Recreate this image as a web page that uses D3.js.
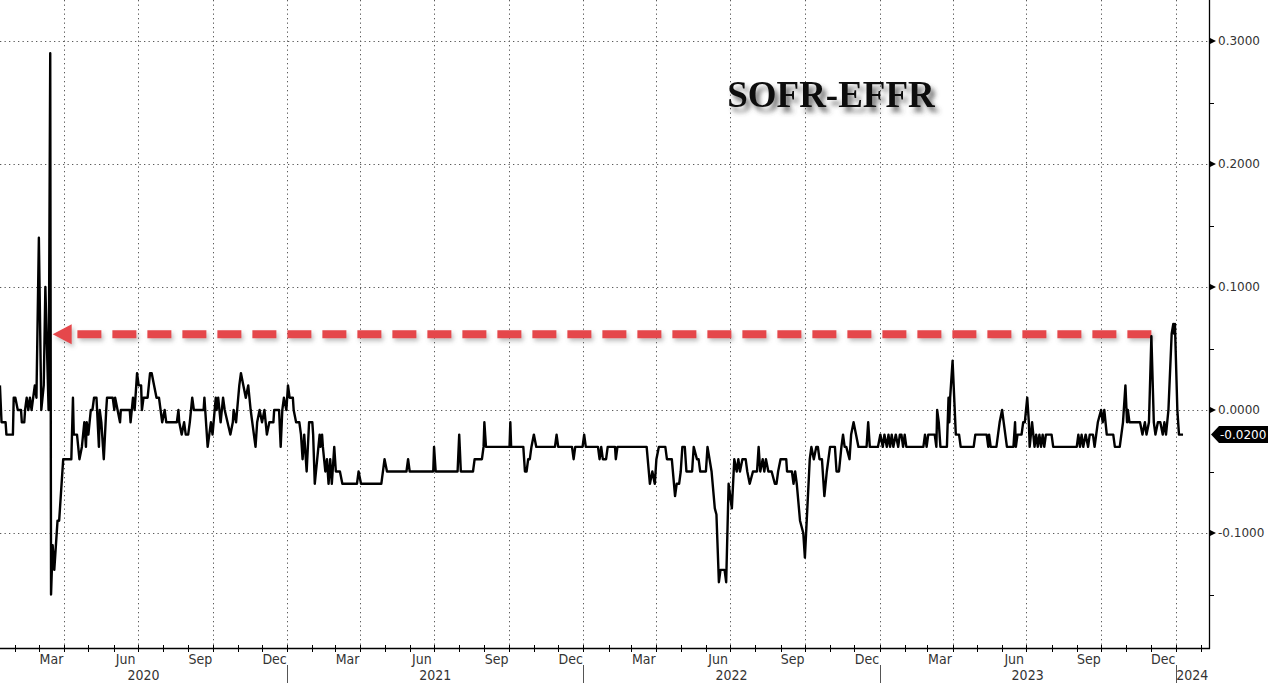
<!DOCTYPE html>
<html>
<head>
<meta charset="utf-8">
<script src="https://cdn.jsdelivr.net/npm/d3@7"></script>
<style>
html,body{margin:0;padding:0;background:#fff;}
svg{display:block;}
</style>
</head>
<body>
<svg id="chart" width="1268" height="683"></svg>
<script>
// ---------------- DATA ----------------
const baseDate = "2020-01-01";            // day 0
// observation dates, in days after baseDate
const dayOffsets = [
12,14,19,20,28,29,31,34,38,39,42,43,45,47,49,51,53,55,57,60,63,66,68,72,74,75,77,79,83,85,90,
100,102,103,107,110,113,116,118,119,121,124,126,128,131,134,135,137,140,143,144,151,153,154,157,160,161,172,173,176,178,181,183,186,187,189,194,197,199,202,205,208,210,212,215,217,230,232,233,236,239,241,244,246,249,251,263,264,266,268,272,274,278,279,281,284,287,289,296,299,300,303,307,309,312,315,318,321,323,327,329,332,335,338,341,344,349,350,356,358,
360,362,365,367,369,373,374,377,381,383,385,387,390,393,397,398,400,403,406,407,409,410,413,415,417,419,421,424,426,431,434,452,454,457,482,486,489,513,515,517,546,547,549,576,578,580,595,597,606,608,609,611,640,641,642,657,659,661,663,665,667,670,673,
696,698,700,717,719,721,730,732,734,749,751,753,755,759,761,770,771,773,809,813,816,819,821,824,832,834,840,844,846,849,851,853,856,858,865,867,871,873,875,882,884,889,893,895,898,900,905,907,910,914,917,920,922,924,927,931,933,936,940,945,947,949,952,954,956,959,963,967,969,971,974,981,982,988,990,992,994,998,1002,1004,1007,1010,
1012,1015,1018,1020,1022,1025,1028,1031,1033,1035,1041,1043,1046,1049,1051,1053,1055,1059,1061,1064,1067,1070,1080,1082,1084,1094,1097,1100,1102,1105,1107,1109,1111,1113,1116,1119,1121,1123,1125,1127,1129,1150,1152,1154,1156,1164,1166,1167,1169,1171,1179,1181,1182,1183,1186,1188,1190,1194,1196,1212,1214,1228,1230,1231,1233,1240,1242,1244,1247,1249,1253,1261,1263,1264,1266,1271,1273,1275,1278,1280,1281,1284,1287,1289,1291,1293,1295,1297,1299,1301,1308,1310,
1339,1341,1343,1345,1347,1350,1353,1355,1359,1361,1363,1365,1369,1371,1373,1376,1384,1386,1392,1394,1396,1399,1401,1402,1404,1417,1420,1423,1425,1428,1431,1434,1436,1439,1442,1445,1447,1449,1452,1456,1458,1459,1460,1463,1465,1470
];
// SOFR minus EFFR, percentage points
const spread = [
0.02,-0.01,-0.01,-0.02,-0.02,0.01,0.01,0,0,-0.01,-0.01,0,0.01,0,0.01,0,0.01,0.02,0.01,0.14,0,0.02,0.10,0,0.29,-0.15,-0.11,-0.13,-0.09,-0.09,-0.04,
-0.04,0.01,-0.02,-0.02,-0.04,-0.03,-0.01,-0.03,-0.01,-0.02,0,0,0.01,0.01,-0.03,0,-0.01,-0.04,0,0.01,0.01,0,0.01,0,-0.01,0,0,-0.01,0.01,0,0.03,0.02,0.02,0,0.01,0.01,0.03,0.03,0.02,0.01,0.01,0,-0.01,0,-0.01,-0.01,0,-0.01,-0.02,-0.01,-0.02,-0.02,-0.01,0.01,0,0,0.01,-0.01,-0.03,-0.01,-0.02,0.01,0,0.01,-0.01,0.01,0,-0.02,-0.01,0,-0.01,0.02,0.03,0.02,0.01,0.02,0,-0.01,-0.03,-0.01,0,-0.01,0,-0.02,-0.01,-0.01,0,0,-0.03,
0,0.01,0,0.02,0.01,0.01,0,-0.01,-0.01,-0.02,-0.04,-0.02,-0.05,-0.01,-0.01,-0.02,-0.06,-0.04,-0.02,-0.03,-0.02,-0.03,-0.05,-0.04,-0.06,-0.04,-0.06,-0.03,-0.05,-0.05,-0.06,-0.06,-0.05,-0.06,-0.06,-0.04,-0.05,-0.05,-0.04,-0.05,-0.05,-0.03,-0.05,-0.05,-0.02,-0.05,-0.05,-0.04,-0.04,-0.03,-0.01,-0.03,-0.03,-0.01,-0.03,-0.03,-0.05,-0.05,-0.04,-0.04,-0.03,-0.02,-0.03,
-0.03,-0.02,-0.03,-0.03,-0.04,-0.03,-0.03,-0.02,-0.03,-0.03,-0.04,-0.03,-0.04,-0.04,-0.03,-0.03,-0.04,-0.03,-0.03,-0.06,-0.05,-0.06,-0.04,-0.03,-0.03,-0.04,-0.04,-0.07,-0.06,-0.06,-0.05,-0.03,-0.03,-0.05,-0.05,-0.03,-0.04,-0.04,-0.05,-0.05,-0.03,-0.05,-0.08,-0.085,-0.14,-0.13,-0.13,-0.14,-0.06,-0.08,-0.04,-0.05,-0.04,-0.05,-0.04,-0.04,-0.05,-0.06,-0.05,-0.05,-0.03,-0.05,-0.04,-0.05,-0.04,-0.05,-0.05,-0.06,-0.06,-0.05,-0.04,-0.04,-0.05,-0.05,-0.06,-0.05,-0.06,-0.09,-0.10,-0.12,-0.08,-0.04,
-0.03,-0.04,-0.03,-0.03,-0.04,-0.04,-0.07,-0.05,-0.04,-0.03,-0.03,-0.05,-0.05,-0.03,-0.02,-0.03,-0.03,-0.04,-0.02,-0.01,-0.02,-0.03,-0.03,-0.01,-0.03,-0.03,-0.02,-0.03,-0.02,-0.03,-0.02,-0.03,-0.02,-0.03,-0.02,-0.03,-0.02,-0.02,-0.03,-0.02,-0.03,-0.03,-0.02,-0.03,-0.02,-0.02,-0.03,0,-0.01,-0.03,-0.03,0.01,-0.01,0.01,0.04,0.01,-0.02,-0.02,-0.03,-0.03,-0.02,-0.02,-0.03,-0.02,-0.03,-0.03,-0.02,-0.01,0,-0.01,-0.03,-0.03,-0.01,-0.03,-0.02,-0.02,-0.01,-0.01,0.01,-0.01,-0.03,-0.01,-0.03,-0.02,-0.03,-0.02,-0.03,-0.02,-0.03,-0.02,-0.02,-0.03,
-0.03,-0.02,-0.03,-0.02,-0.03,-0.02,-0.03,-0.02,-0.02,-0.03,-0.02,-0.01,0,-0.01,0,-0.02,-0.02,-0.03,-0.03,-0.02,-0.01,0.02,-0.01,0,-0.01,-0.01,-0.02,-0.01,-0.02,-0.01,0.06,-0.01,-0.02,-0.01,-0.01,-0.02,-0.01,-0.02,0,0.062,0.07,0.062,0.07,0,-0.02,-0.02
];
const yTickValues = [-0.1, 0, 0.1, 0.2, 0.3];
const yMinorValues = [-0.15, -0.05, 0.05, 0.15, 0.25];
const monthLabelNames = {2: "Mar", 5: "Jun", 8: "Sep", 11: "Dec"};
const yearLabels = ["2020", "2021", "2022", "2023", "2024"];
const lastValueLabel = "-0.0200";
const chartTitle = "SOFR-EFFR";
// annotation arrow: level and the two observation days it links
const arrowLevel = 0.0615;
const arrowFromDay = 1431;
const arrowToDay = 77;

// ---------------- SCALES ----------------
const base = new Date(baseDate + "T00:00:00Z");
const dayToDate = d => new Date(base.getTime() + d * 86400000);
const data = dayOffsets.map((d, i) => ({date: dayToDate(d), v: spread[i]}));

const W = 1268, H = 683;
const plotRight = 1209, plotBottom = 648;
const x = d3.scaleUtc()
  .domain([dayToDate(12.1), dayToDate(1502)])
  .range([0, plotRight]);
const y = d3.scaleLinear().domain([-0.1, 0.3]).range([533, 41]);

const svg = d3.select("#chart");
const defs = svg.append("defs");
const tf = defs.append("filter").attr("id", "titleShadow").attr("x", "-20%").attr("y", "-40%").attr("width", "140%").attr("height", "190%");
tf.append("feDropShadow").attr("dx", 4).attr("dy", 5).attr("stdDeviation", 2.8)
  .attr("flood-color", "#444").attr("flood-opacity", 0.75);
const af = defs.append("filter").attr("id", "arrowShadow").attr("x", "-5%").attr("y", "-100%").attr("width", "110%").attr("height", "300%");
af.append("feDropShadow").attr("dx", 2).attr("dy", 3).attr("stdDeviation", 2)
  .attr("flood-color", "#777").attr("flood-opacity", 0.45);

// ---------------- GRID ----------------
const gridColor = "#5a5a5a";
const dash = "1.3,3.2";
svg.append("g").selectAll("line").data(yTickValues).join("line")
  .attr("x1", 0).attr("x2", plotRight)
  .attr("y1", d => Math.round(y(d)) + 0.5).attr("y2", d => Math.round(y(d)) + 0.5)
  .attr("stroke", gridColor).attr("stroke-width", 1).attr("stroke-dasharray", dash);

const quarterStarts = d3.utcMonth.every(3).range(x.domain()[0], x.domain()[1]);
svg.append("g").selectAll("line").data(quarterStarts).join("line")
  .attr("x1", d => Math.round(x(d)) + 0.5).attr("x2", d => Math.round(x(d)) + 0.5)
  .attr("y1", 0).attr("y2", plotBottom)
  .attr("stroke", gridColor).attr("stroke-width", 1).attr("stroke-dasharray", dash);

// ---------------- TITLE ----------------
svg.append("text")
  .attr("x", 831).attr("y", 107)
  .attr("text-anchor", "middle")
  .attr("font-family", "'Liberation Serif','Times New Roman',serif")
  .attr("font-weight", "bold").attr("font-size", 37)
  .attr("fill", "#111")
  .attr("filter", "url(#titleShadow)")
  .text(chartTitle);

// ---------------- ARROW ----------------
const ay = y(arrowLevel);
const tipX = x(dayToDate(arrowToDay));
const headLen = 19, headHalf = 10;
const ag = svg.append("g").attr("filter", "url(#arrowShadow)");
ag.append("line")
  .attr("x1", x(dayToDate(arrowFromDay))).attr("x2", tipX + headLen)
  .attr("y1", ay).attr("y2", ay)
  .attr("stroke", "#e5474b").attr("stroke-width", 8)
  .attr("stroke-dasharray", "24,11");
ag.append("path")
  .attr("d", `M${tipX},${ay} L${tipX + headLen},${ay - headHalf} L${tipX + headLen},${ay + headHalf} Z`)
  .attr("fill", "#e5474b");

// ---------------- LINE ----------------
svg.append("path")
  .datum(data)
  .attr("fill", "none").attr("stroke", "#000").attr("stroke-width", 2.4)
  .attr("stroke-linejoin", "round")
  .attr("d", d3.line().x(d => x(d.date)).y(d => y(d.v)));

// ---------------- AXES ----------------
svg.append("line").attr("x1", 0).attr("x2", plotRight + 1)
  .attr("y1", plotBottom + 0.5).attr("y2", plotBottom + 0.5)
  .attr("stroke", "#000").attr("stroke-width", 1.3);
svg.append("line").attr("x1", plotRight + 0.5).attr("x2", plotRight + 0.5)
  .attr("y1", 0).attr("y2", plotBottom + 1)
  .attr("stroke", "#000").attr("stroke-width", 1.3);

// month ticks
const monthStarts = d3.utcMonth.range(x.domain()[0], x.domain()[1]);
svg.append("g").selectAll("line").data(monthStarts).join("line")
  .attr("x1", d => Math.round(x(d)) + 0.5).attr("x2", d => Math.round(x(d)) + 0.5)
  .attr("y1", plotBottom - 3).attr("y2", plotBottom + 4)
  .attr("stroke", "#000").attr("stroke-width", 1);

// month labels (centred in their month)
const labelMonths = monthStarts.filter(d => monthLabelNames[d.getUTCMonth()] !== undefined);
svg.append("g").selectAll("text").data(labelMonths).join("text")
  .attr("x", d => (x(d) + x(d3.utcMonth.offset(d, 1))) / 2)
  .attr("y", 664)
  .attr("text-anchor", "middle")
  .attr("font-family", "'Liberation Sans Narrow','DejaVu Sans Condensed',sans-serif")
  .attr("font-size", 14).attr("fill", "#333")
  .text(d => monthLabelNames[d.getUTCMonth()]);

// year labels and separators
const yearStarts = yearLabels.map(s => new Date(s + "-01-01T00:00:00Z"));
svg.append("g").selectAll("text").data(yearStarts).join("text")
  .attr("x", d => {
    const a = Math.max(0, x(d));
    const b = Math.min(plotRight, x(d3.utcYear.offset(d, 1)));
    return (a + b) / 2;
  })
  .attr("y", 680)
  .attr("text-anchor", "middle")
  .attr("font-family", "'Liberation Sans Narrow','DejaVu Sans Condensed',sans-serif")
  .attr("font-size", 14).attr("fill", "#333")
  .text((d, i) => yearLabels[i]);
svg.append("g").selectAll("line").data(yearStarts.filter(d => x(d) > 1)).join("line")
  .attr("x1", d => Math.round(x(d)) + 0.5).attr("x2", d => Math.round(x(d)) + 0.5)
  .attr("y1", 665).attr("y2", 683)
  .attr("stroke", "#555").attr("stroke-width", 1);

// right axis ticks and labels
const ra = svg.append("g");
ra.selectAll("path").data(yTickValues).join("path")
  .attr("d", d => `M${plotRight},${y(d) - 3.5} L${plotRight + 7},${y(d)} L${plotRight},${y(d) + 3.5} Z`)
  .attr("fill", "#000");
ra.selectAll("line").data(yMinorValues).join("line")
  .attr("x1", plotRight).attr("x2", plotRight + 5)
  .attr("y1", d => Math.round(y(d)) + 0.5).attr("y2", d => Math.round(y(d)) + 0.5)
  .attr("stroke", "#000").attr("stroke-width", 1);
ra.selectAll("text").data(yTickValues).join("text")
  .attr("x", plotRight + 9).attr("y", d => y(d)).attr("dy", "0.36em")
  .attr("font-family", "'DejaVu Sans',sans-serif").attr("font-size", 12)
  .attr("fill", "#333")
  .text(d => (d < 0 ? "-" : "") + Math.abs(d).toFixed(4));

// last value label
const lv = spread[spread.length - 1];
const ly = y(lv);
svg.append("path")
  .attr("d", `M${plotRight + 2},${ly} L${plotRight + 10},${ly - 8.5} L${W},${ly - 8.5} L${W},${ly + 8.5} L${plotRight + 10},${ly + 8.5} Z`)
  .attr("fill", "#000");
svg.append("text")
  .attr("x", plotRight + 11).attr("y", ly).attr("dy", "0.36em")
  .attr("font-family", "'DejaVu Sans',sans-serif").attr("font-size", 12)
  .attr("fill", "#fff")
  .text(lastValueLabel);
</script>
</body>
</html>
